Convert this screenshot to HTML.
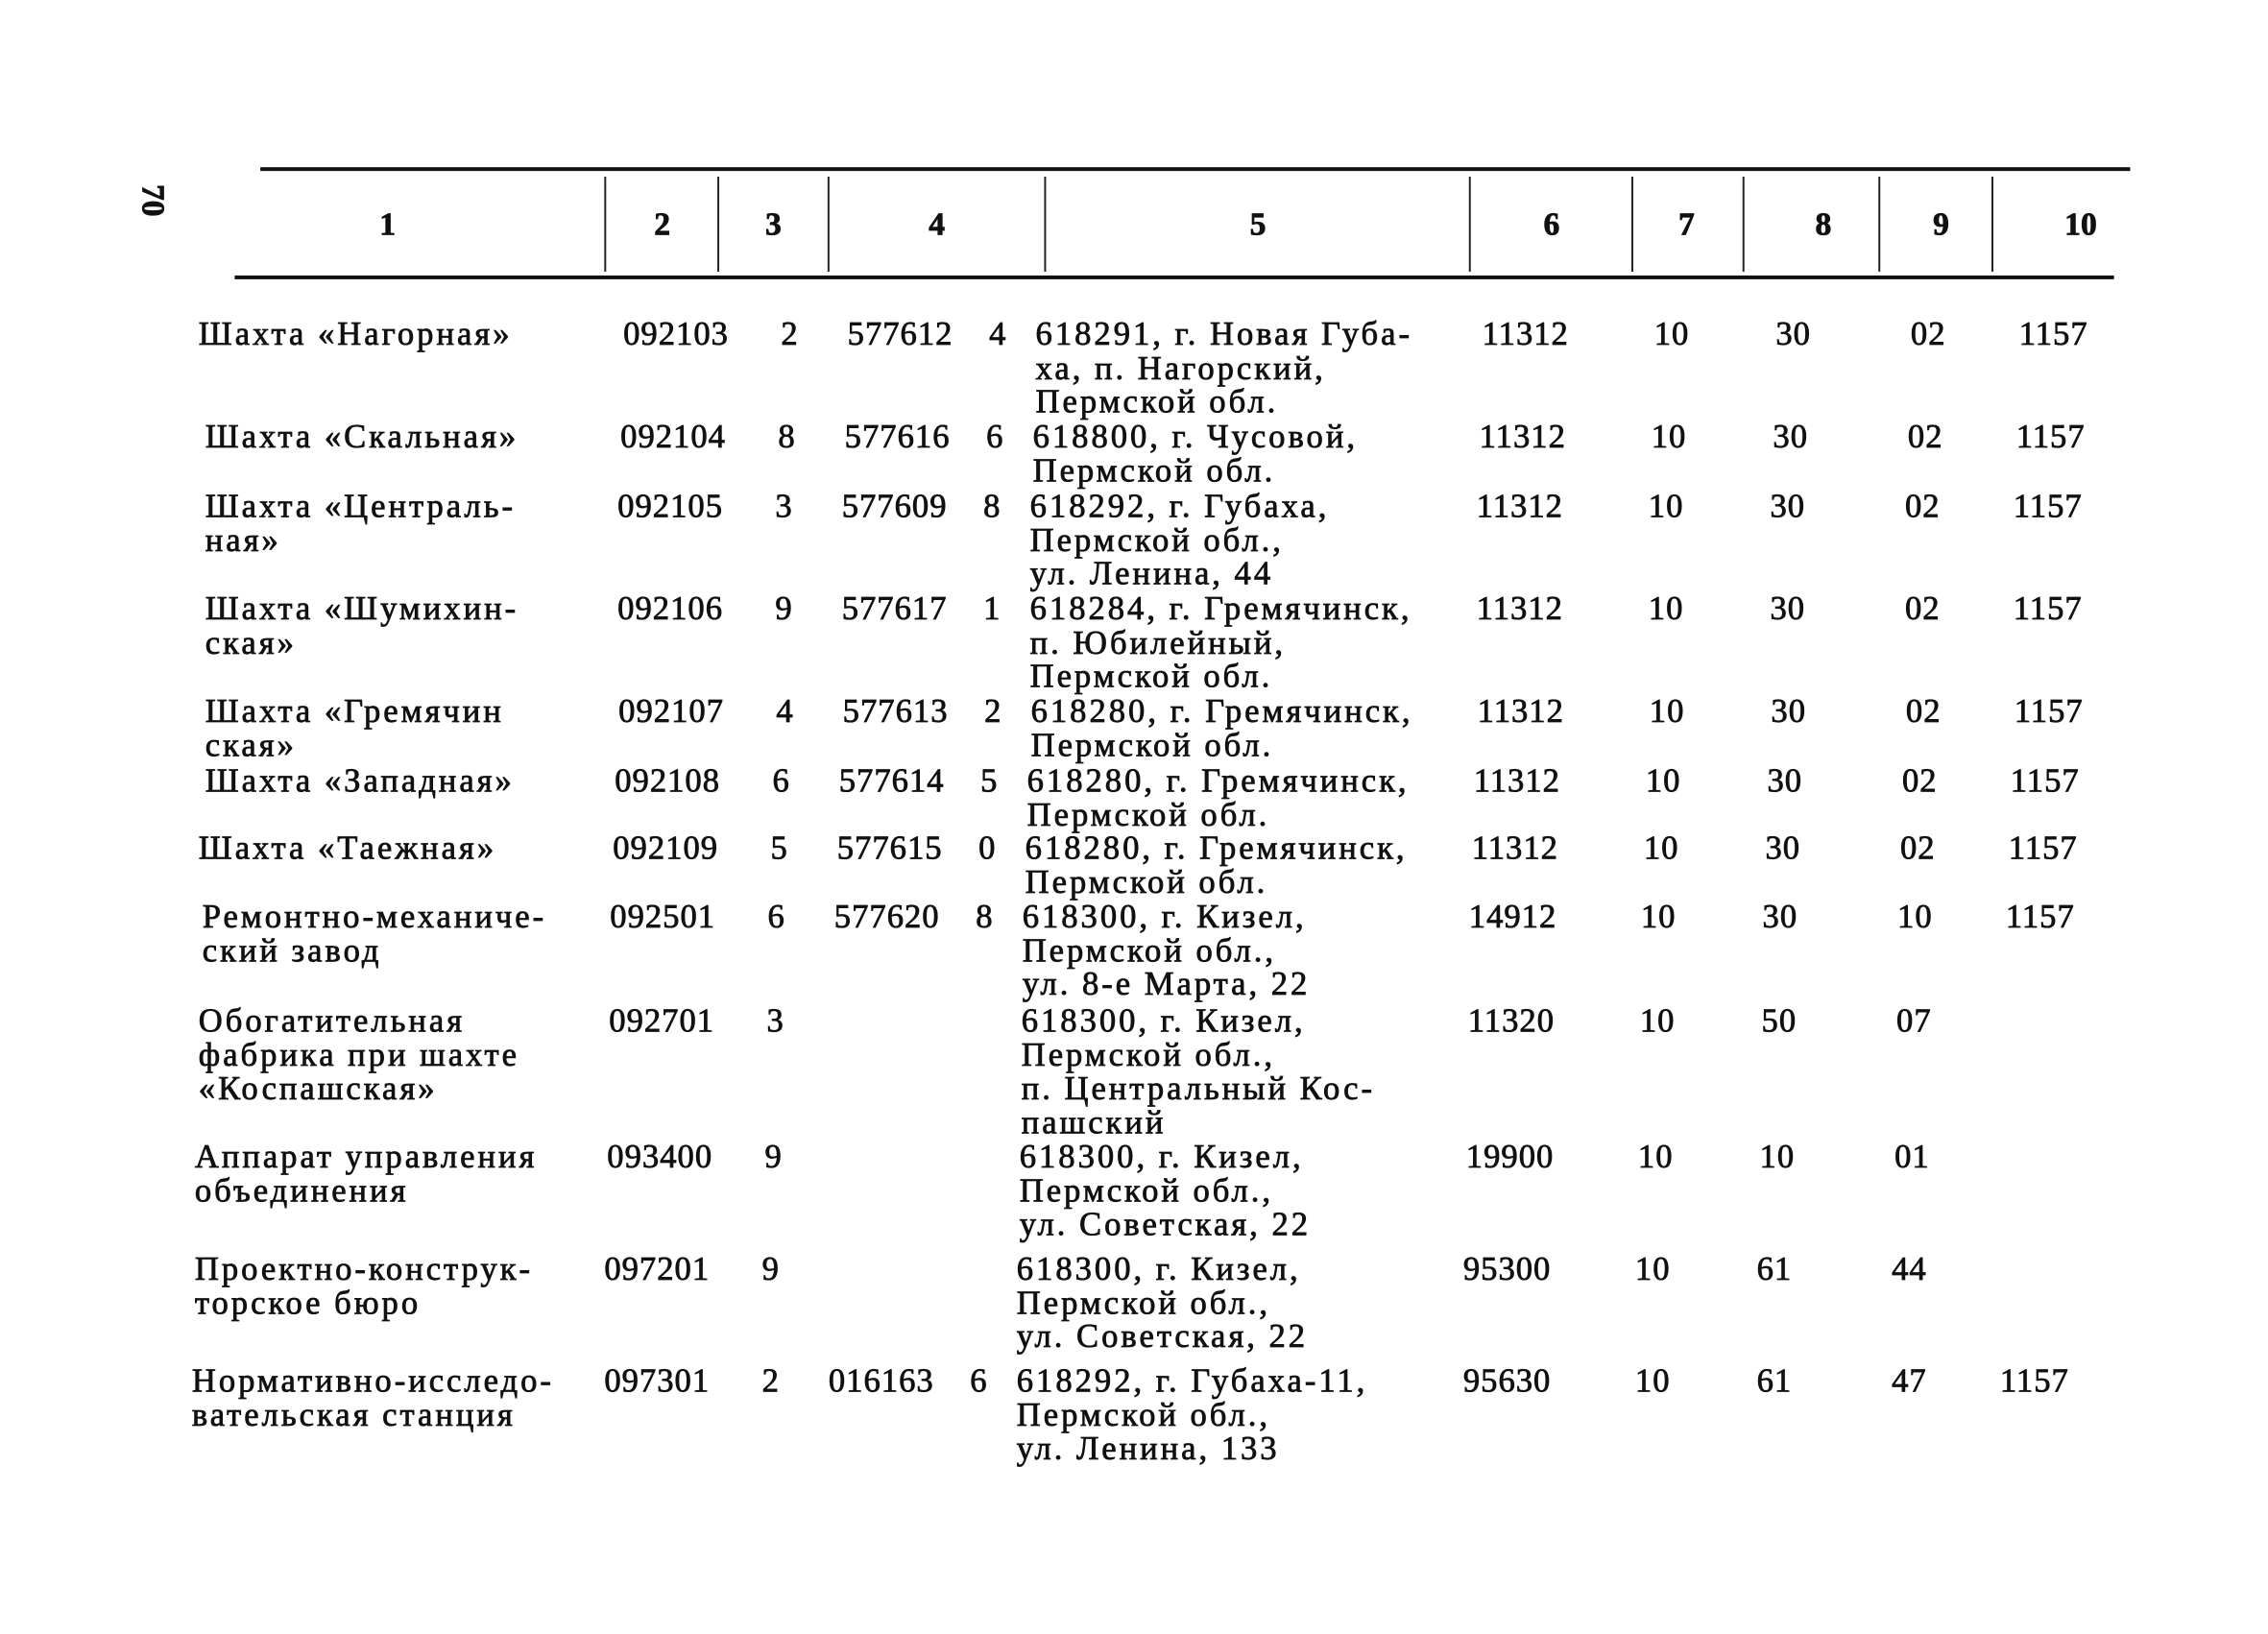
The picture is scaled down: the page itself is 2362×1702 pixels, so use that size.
<!DOCTYPE html>
<html><head><meta charset="utf-8"><style>
body{margin:0;background:#fff;}
#p{position:relative;width:2362px;height:1702px;overflow:hidden;background:#fff;font-family:"Liberation Serif","DejaVu Serif",serif;color:#111;font-size:35px;-webkit-text-stroke:0.8px #111;}
#s{position:absolute;left:0;top:0;width:2362px;height:1702px;transform:scale(0.9895);transform-origin:0 0;}
.h{position:absolute;background:#111;}
.v{position:absolute;width:2px;background:#222;top:186px;height:100px;}
.hd{position:absolute;top:218px;transform:translateX(-50%);font-weight:bold;font-size:34px;}
.r{position:absolute;left:0;width:2362px;}
.r span{position:absolute;top:0;white-space:nowrap;line-height:35.5px;letter-spacing:1px;}
.r span.t{letter-spacing:3px;}
</style></head><body><div id="p"><div id="s">
<div class="h" style="left:274px;top:176px;width:1968px;height:4px"></div>
<div class="h" style="left:247px;top:290px;width:1978px;height:4px"></div>
<div class="v" style="left:636px"></div><div class="v" style="left:755px"></div><div class="v" style="left:871px"></div><div class="v" style="left:1099px"></div><div class="v" style="left:1546px"></div><div class="v" style="left:1717px"></div><div class="v" style="left:1834px"></div><div class="v" style="left:1977px"></div><div class="v" style="left:2096px"></div>
<div class="hd" style="left:408px">1</div><div class="hd" style="left:697px">2</div><div class="hd" style="left:814px">3</div><div class="hd" style="left:986px">4</div><div class="hd" style="left:1324px">5</div><div class="hd" style="left:1633px">6</div><div class="hd" style="left:1775px">7</div><div class="hd" style="left:1919px">8</div><div class="hd" style="left:2043px">9</div><div class="hd" style="left:2190px">10</div>
<div style="position:absolute;left:143px;top:192px;transform:rotate(90deg);font-size:34px;font-weight:bold">70</div>

<div class="r" style="top:334px;left:0px"><span class="t" style="left:209px">Шахта «Нагорная»</span><span style="left:656px">092103</span><span style="left:822px">2</span><span style="left:892px">577612</span><span style="left:1041px">4</span><span class="t" style="left:1090px">618291, г. Новая Губа-<br>ха, п. Нагорский,<br>Пермской обл.</span><span style="left:1560px">11312</span><span style="left:1741px">10</span><span style="left:1869px">30</span><span style="left:2011px">02</span><span style="left:2125px">1157</span></div>

<div class="r" style="top:442px;left:-3px"><span class="t" style="left:219px">Шахта «Скальная»</span><span style="left:656px">092104</span><span style="left:822px">8</span><span style="left:892px">577616</span><span style="left:1041px">6</span><span class="t" style="left:1090px">618800, г. Чусовой,<br>Пермской обл.</span><span style="left:1560px">11312</span><span style="left:1741px">10</span><span style="left:1869px">30</span><span style="left:2011px">02</span><span style="left:2125px">1157</span></div>

<div class="r" style="top:515px;left:-6px"><span class="t" style="left:222px">Шахта «Централь-<br>ная»</span><span style="left:656px">092105</span><span style="left:822px">3</span><span style="left:892px">577609</span><span style="left:1041px">8</span><span class="t" style="left:1090px">618292, г. Губаха,<br>Пермской обл.,<br>ул. Ленина, 44</span><span style="left:1560px">11312</span><span style="left:1741px">10</span><span style="left:1869px">30</span><span style="left:2011px">02</span><span style="left:2125px">1157</span></div>

<div class="r" style="top:623px;left:-6px"><span class="t" style="left:222px">Шахта «Шумихин-<br>ская»</span><span style="left:656px">092106</span><span style="left:822px">9</span><span style="left:892px">577617</span><span style="left:1041px">1</span><span class="t" style="left:1090px">618284, г. Гремячинск,<br>п. Юбилейный,<br>Пермской обл.</span><span style="left:1560px">11312</span><span style="left:1741px">10</span><span style="left:1869px">30</span><span style="left:2011px">02</span><span style="left:2125px">1157</span></div>

<div class="r" style="top:731px;left:-5px"><span class="t" style="left:221px">Шахта «Гремячин<br>ская»</span><span style="left:656px">092107</span><span style="left:822px">4</span><span style="left:892px">577613</span><span style="left:1041px">2</span><span class="t" style="left:1090px">618280, г. Гремячинск,<br>Пермской обл.</span><span style="left:1560px">11312</span><span style="left:1741px">10</span><span style="left:1869px">30</span><span style="left:2011px">02</span><span style="left:2125px">1157</span></div>

<div class="r" style="top:804px;left:-9px"><span class="t" style="left:225px">Шахта «Западная»</span><span style="left:656px">092108</span><span style="left:822px">6</span><span style="left:892px">577614</span><span style="left:1041px">5</span><span class="t" style="left:1090px">618280, г. Гремячинск,<br>Пермской обл.</span><span style="left:1560px">11312</span><span style="left:1741px">10</span><span style="left:1869px">30</span><span style="left:2011px">02</span><span style="left:2125px">1157</span></div>

<div class="r" style="top:875px;left:-11px"><span class="t" style="left:220px">Шахта «Таежная»</span><span style="left:656px">092109</span><span style="left:822px">5</span><span style="left:892px">577615</span><span style="left:1041px">0</span><span class="t" style="left:1090px">618280, г. Гремячинск,<br>Пермской обл.</span><span style="left:1560px">11312</span><span style="left:1741px">10</span><span style="left:1869px">30</span><span style="left:2011px">02</span><span style="left:2125px">1157</span></div>

<div class="r" style="top:947px;left:-14px"><span class="t" style="left:227px">Ремонтно-механиче-<br>ский завод</span><span style="left:656px">092501</span><span style="left:822px">6</span><span style="left:892px">577620</span><span style="left:1041px">8</span><span class="t" style="left:1090px">618300, г. Кизел,<br>Пермской обл.,<br>ул. 8-е Марта, 22</span><span style="left:1560px">14912</span><span style="left:1741px">10</span><span style="left:1869px">30</span><span style="left:2011px">10</span><span style="left:2125px">1157</span></div>

<div class="r" style="top:1057px;left:-15px"><span class="t" style="left:224px">Обогатительная<br>фабрика при шахте<br>«Коспашская»</span><span style="left:656px">092701</span><span style="left:822px">3</span><span class="t" style="left:1090px">618300, г. Кизел,<br>Пермской обл.,<br>п. Центральный Кос-<br>пашский</span><span style="left:1560px">11320</span><span style="left:1741px">10</span><span style="left:1869px">50</span><span style="left:2011px">07</span></div>

<div class="r" style="top:1200px;left:-17px"><span class="t" style="left:222px">Аппарат управления<br>объединения</span><span style="left:656px">093400</span><span style="left:822px">9</span><span class="t" style="left:1090px">618300, г. Кизел,<br>Пермской обл.,<br>ул. Советская, 22</span><span style="left:1560px">19900</span><span style="left:1741px">10</span><span style="left:1869px">10</span><span style="left:2011px">01</span></div>

<div class="r" style="top:1318px;left:-20px"><span class="t" style="left:225px">Проектно-конструк-<br>торское бюро</span><span style="left:656px">097201</span><span style="left:822px">9</span><span class="t" style="left:1090px">618300, г. Кизел,<br>Пермской обл.,<br>ул. Советская, 22</span><span style="left:1560px">95300</span><span style="left:1741px">10</span><span style="left:1869px">61</span><span style="left:2011px">44</span></div>

<div class="r" style="top:1436px;left:-20px"><span class="t" style="left:222px">Нормативно-исследо-<br>вательская станция</span><span style="left:656px">097301</span><span style="left:822px">2</span><span style="left:892px">016163</span><span style="left:1041px">6</span><span class="t" style="left:1090px">618292, г. Губаха-11,<br>Пермской обл.,<br>ул. Ленина, 133</span><span style="left:1560px">95630</span><span style="left:1741px">10</span><span style="left:1869px">61</span><span style="left:2011px">47</span><span style="left:2125px">1157</span></div>
</div></div></body></html>
